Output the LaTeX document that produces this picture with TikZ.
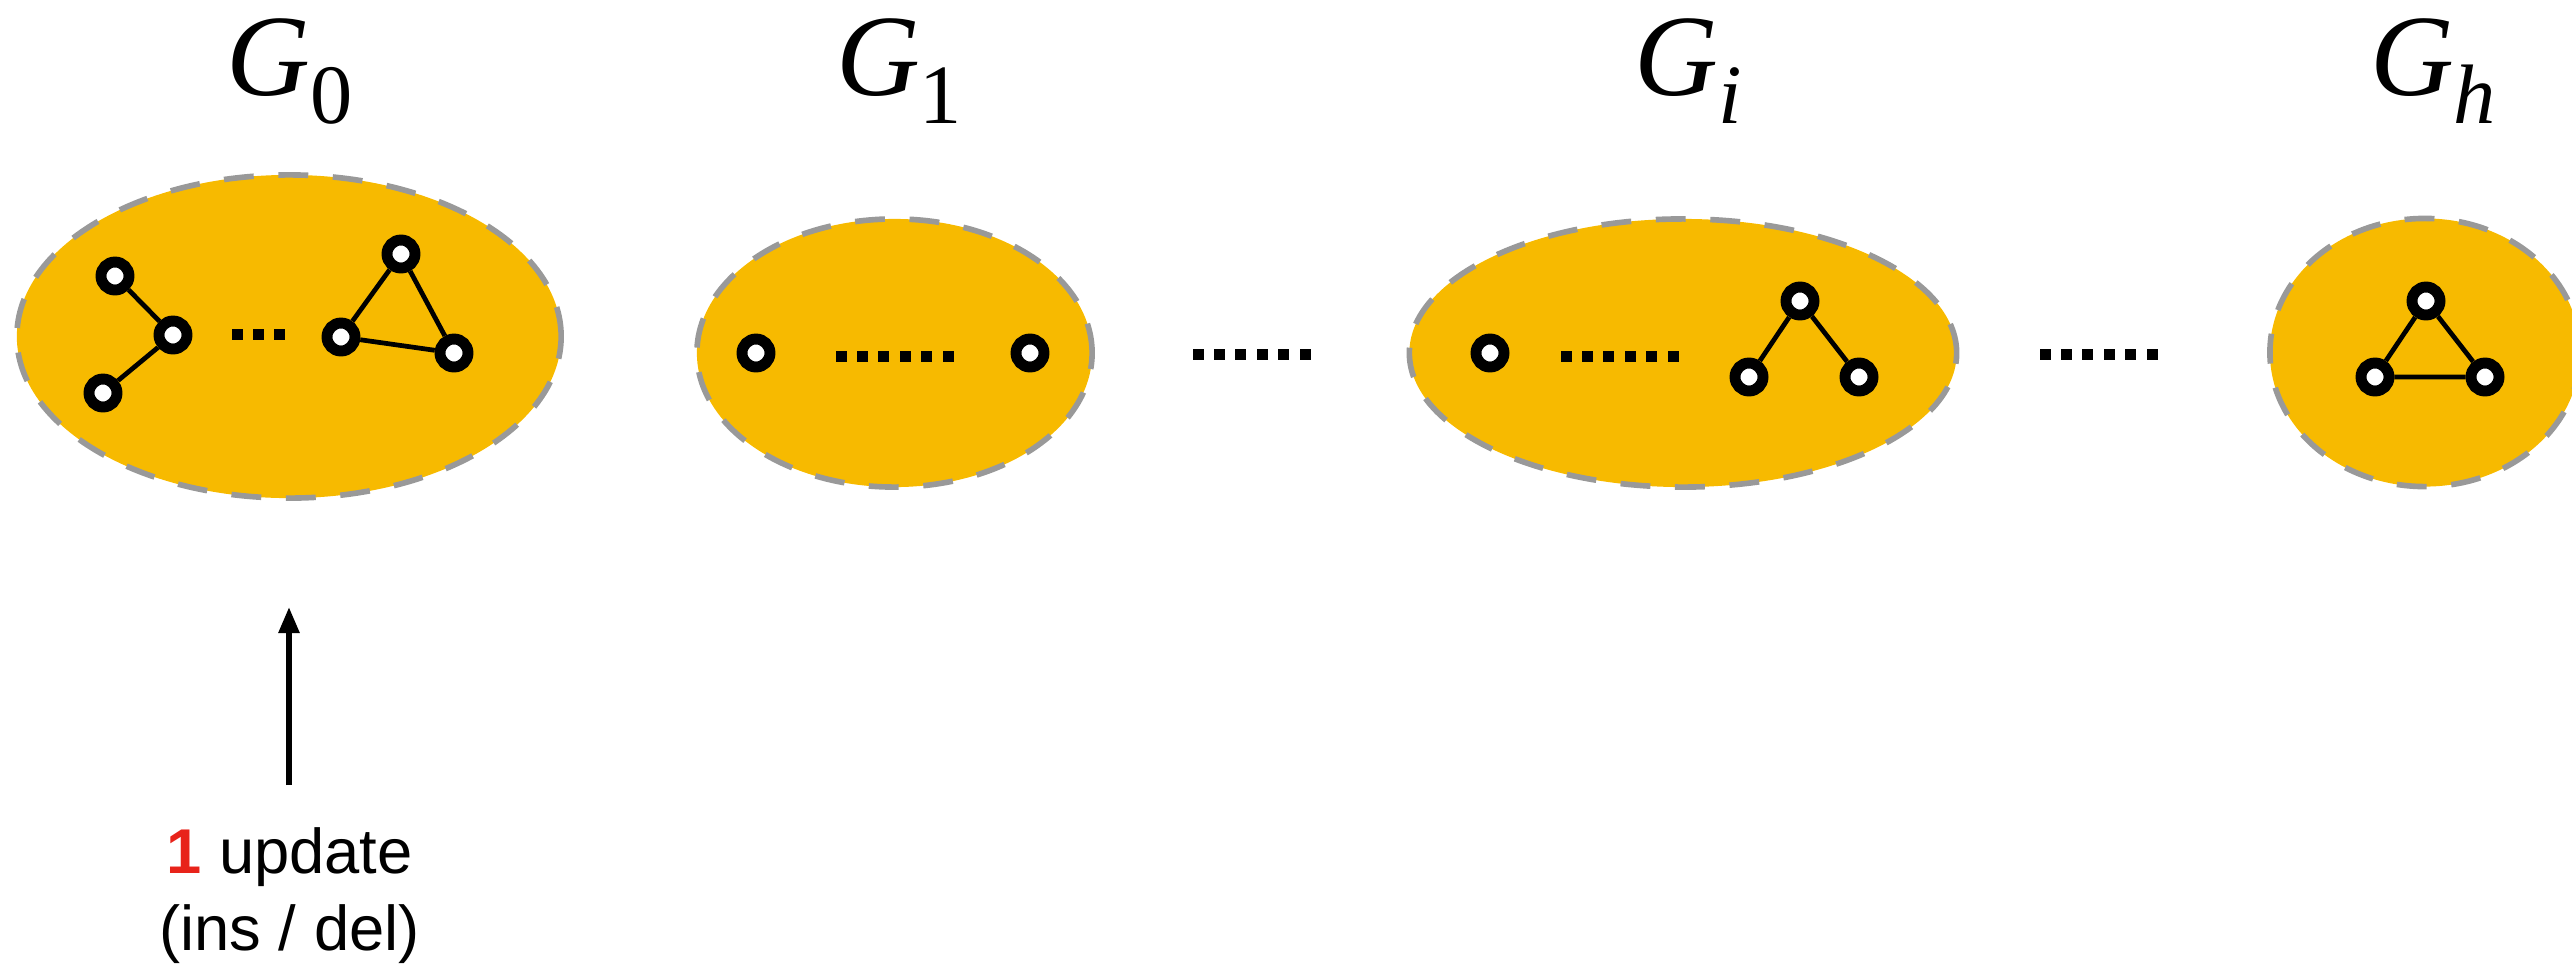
\documentclass[tikz,border=0pt]{standalone}
\usepackage{fontspec}
\setmainfont{Liberation Serif}
\setsansfont{Liberation Sans}
\usetikzlibrary{shapes.geometric,arrows.meta}
\definecolor{gold}{HTML}{F7BA00}
\definecolor{dashgray}{HTML}{999999}
\definecolor{updred}{HTML}{E8231A}
\tikzset{
  comp/.style={ellipse, fill=gold, draw=dashgray, line width=1.6pt, dash pattern=on 8.5pt off 7pt, inner sep=0pt},
  vtx/.style={circle, draw=black, fill=white, line width=3.1pt, minimum size=0.28cm, inner sep=0pt},
  gedge/.style={line width=1.35pt},
  glabel/.style={anchor=base, inner sep=0pt},
  txt/.style={anchor=base, inner sep=0pt, font=\sffamily\fontsize{18}{22}\selectfont},
  uparrow/.style={line width=1.6pt, -{Triangle[width=0.2cm,length=0.26cm]}}
}
\newcommand{\Glab}[1]{{\fontsize{33}{40}\selectfont\itshape G}\raisebox{-8pt}{\fontsize{24}{29}\selectfont #1}}
\newcommand{\sqdots}[3]{\foreach \k in {1,...,#3} {\fill ({#1+(\k-1)*21.4-5.5},{#2-5.5}) rectangle ++(11,11);}}
\begin{document}
\begin{tikzpicture}[x=0.01cm,y=-0.01cm]
\useasboundingbox (0,0) rectangle (2572,963);
% components
\node[comp, minimum width=5.44cm, minimum height=3.23cm] (e0) at (289,336.5) {};
\node[comp, minimum width=3.95cm, minimum height=2.68cm] (e1) at (894.5,353) {};
\node[comp, minimum width=5.47cm, minimum height=2.68cm] (ei) at (1683,353) {};
\node[comp, minimum width=3.10cm, minimum height=2.68cm] (eh) at (2425,352.5) {};
% labels
\node[glabel] (l0) at (290,95) {\Glab{0}};
\node[glabel] (l1) at (899,95) {\Glab{1}};
\node[glabel] (li) at (1688,95) {\Glab{\itshape i}};
\node[glabel] (lh) at (2433,95) {\Glab{\itshape h}};
% G0 graph
\node[vtx] (a1) at (115,276) {};
\node[vtx] (a2) at (173,335) {};
\node[vtx] (a3) at (103,393) {};
\node[vtx] (b1) at (401,254) {};
\node[vtx] (b2) at (341,337) {};
\node[vtx] (b3) at (454,353) {};
\draw[gedge] (a1) -- (a2) -- (a3);
\draw[gedge] (b1) -- (b2) -- (b3) -- (b1);
\sqdots{237}{334.5}{3}
% G1 graph
\node[vtx] (c1) at (756,353) {};
\node[vtx] (c2) at (1030,353) {};
\sqdots{841}{356}{6}
% Gi graph
\node[vtx] (d1) at (1490,353) {};
\node[vtx] (d2) at (1800,301) {};
\node[vtx] (d3) at (1749,377) {};
\node[vtx] (d4) at (1859,377) {};
\draw[gedge] (d3) -- (d2) -- (d4);
\sqdots{1566}{356}{6}
% Gh graph
\node[vtx] (f1) at (2426,301) {};
\node[vtx] (f2) at (2375,377) {};
\node[vtx] (f3) at (2485,377) {};
\draw[gedge] (f1) -- (f2) -- (f3) -- (f1);
% between dots
\sqdots{1198}{354}{6}
\sqdots{2045}{354}{6}
% update arrow and text
\coordinate (atail) at (289,785);
\coordinate (atip) at (289,607);
\draw[uparrow] (atail) -- (atip);
\node[txt] (u1) at (289.5,873) {\textcolor{updred}{\textbf{1}} update};
\node[txt] (u2) at (289.5,950) {(ins / del)};
\end{tikzpicture}
\end{document}
